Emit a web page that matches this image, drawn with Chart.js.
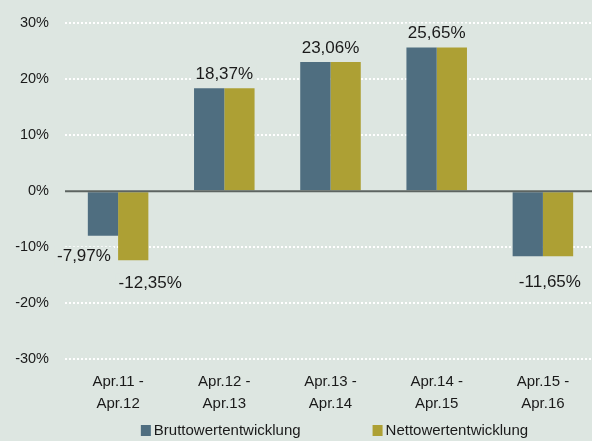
<!DOCTYPE html>
<html lang="de">
  <head>
    <meta charset="UTF-8" />
    <title>Wertentwicklung</title>
    <script src="https://cdn.jsdelivr.net/npm/chart.js"></script>
    <style>
      body {
        margin: 0;
        overflow: hidden;
        background-color: #dde6e1;
      }

      .chart-wrapper {
        position: relative;
        width: 596px;
        height: 441px;
      }
    </style>
  </head>
  <body>
    <div class="chart-wrapper">
      <canvas id="performanceChart"></canvas>
    </div>

    <script>
      // Zeiträume
      const periods = [
        ["Apr.11 -", "Apr.12"],
        ["Apr.12 -", "Apr.13"],
        ["Apr.13 -", "Apr.14"],
        ["Apr.14 -", "Apr.15"],
        ["Apr.15 -", "Apr.16"],
      ];

      // Werte in %
      const bruttoValues = [-7.97, 18.37, 23.06, 25.65, -11.65];
      const nettoValues = [-12.35, 18.37, 23.06, 25.65, -11.65];

      const yTicks = [-30, -20, -10, 0, 10, 20, 30];

      const bgColor = "#dde6e1";
      const textColor = "#1a1a1a";
      const fontFamily = "'Liberation Sans', Arial, sans-serif";

      function formatPercent(v) {
        return v.toFixed(2).replace(".", ",") + "%";
      }

      // Nulllinie über den Balken
      const zeroLinePlugin = {
        id: "zeroLine",
        afterDatasetsDraw(chart) {
          const { ctx, chartArea, scales } = chart;
          const y = scales.y.getPixelForValue(0);
          ctx.save();
          ctx.strokeStyle = "#5d6461";
          ctx.lineWidth = 2;
          ctx.beginPath();
          ctx.moveTo(chartArea.left, y);
          ctx.lineTo(chartArea.right, y);
          ctx.stroke();
          ctx.restore();
        },
      };

      // Wertbeschriftungen mit Hintergrund
      const valueLabelPlugin = {
        id: "valueLabels",
        afterDatasetsDraw(chart) {
          const { ctx } = chart;
          const metaB = chart.getDatasetMeta(0);
          const metaN = chart.getDatasetMeta(1);
          ctx.save();
          ctx.font = "17px " + fontFamily;
          ctx.textAlign = "center";
          ctx.textBaseline = "middle";

          function drawLabel(text, x, y) {
            const w = ctx.measureText(text).width;
            ctx.fillStyle = bgColor;
            ctx.fillRect(x - w / 2 - 3, y - 10, w + 6, 20);
            ctx.fillStyle = textColor;
            ctx.fillText(text, x, y);
          }

          periods.forEach((p, i) => {
            const b = metaB.data[i];
            const n = metaN.data[i];
            const vb = bruttoValues[i];
            const vn = nettoValues[i];
            if (vb === vn) {
              const cx = (b.x + n.x) / 2;
              if (vb >= 0) {
                drawLabel(formatPercent(vb), cx, b.y - 14);
              } else {
                drawLabel(formatPercent(vb), cx + 7, b.y + 26);
              }
            } else {
              drawLabel(formatPercent(vb), b.x - 19, b.y + 21);
              drawLabel(formatPercent(vn), n.x + 17, n.y + 23);
            }
          });
          ctx.restore();
        },
      };

      // Legende unten, eigene Zeichnung
      const legendPlugin = {
        id: "bottomLegend",
        afterDraw(chart) {
          const { ctx, chartArea } = chart;
          const sets = chart.data.datasets;
          const gap = 72;
          ctx.save();
          ctx.font = "15px " + fontFamily;
          ctx.textBaseline = "middle";
          const widths = sets.map((ds) => 13 + ctx.measureText(ds.label).width);
          const total = widths.reduce((a, b) => a + b, 0) + gap * (sets.length - 1);
          let x = (chartArea.left + chartArea.right) / 2 + 4 - total / 2;
          const y = chart.height - 10;
          sets.forEach((ds, i) => {
            ctx.fillStyle = ds.backgroundColor;
            ctx.fillRect(x, y - 6, 10, 11);
            ctx.fillStyle = textColor;
            ctx.fillText(ds.label, x + 13, y);
            x += widths[i] + gap;
          });
          ctx.restore();
        },
      };

      const ctx = document.getElementById("performanceChart").getContext("2d");
      new Chart(ctx, {
        type: "bar",
        data: {
          labels: periods,
          datasets: [
            {
              label: "Bruttowertentwicklung",
              data: bruttoValues,
              backgroundColor: "#4f6e80",
            },
            {
              label: "Nettowertentwicklung",
              data: nettoValues,
              backgroundColor: "#ada034",
            },
          ],
        },
        options: {
          responsive: true,
          maintainAspectRatio: false,
          animation: false,
          layout: {
            padding: { top: 19, right: 0, left: 0, bottom: 14 },
          },
          datasets: {
            bar: {
              barPercentage: 1,
              categoryPercentage: 0.57,
            },
          },
          plugins: {
            legend: { display: false },
            tooltip: { enabled: false },
          },
          scales: {
            x: {
              grid: { display: false, drawTicks: false },
              border: { display: false },
              ticks: {
                color: textColor,
                padding: 12,
                maxRotation: 0,
                font: { family: fontFamily, size: 15, lineHeight: "22px" },
              },
            },
            y: {
              min: -30,
              max: 30,
              afterFit(axis) {
                axis.width = 65;
              },
              afterBuildTicks(axis) {
                axis.ticks = yTicks.map((v) => ({ value: v }));
              },
              grid: {
                drawTicks: false,
                lineWidth: 2,
                color: (c) => (c.tick && c.tick.value === 0 ? "rgba(0,0,0,0)" : "#ffffff"),
              },
              border: { display: false, dash: [2, 2] },
              ticks: {
                color: textColor,
                padding: 16,
                font: { family: fontFamily, size: 14.5, lineHeight: 1 },
                callback: (v) => v + "%",
              },
            },
          },
        },
        plugins: [zeroLinePlugin, valueLabelPlugin, legendPlugin],
      });
    </script>
  </body>
</html>
